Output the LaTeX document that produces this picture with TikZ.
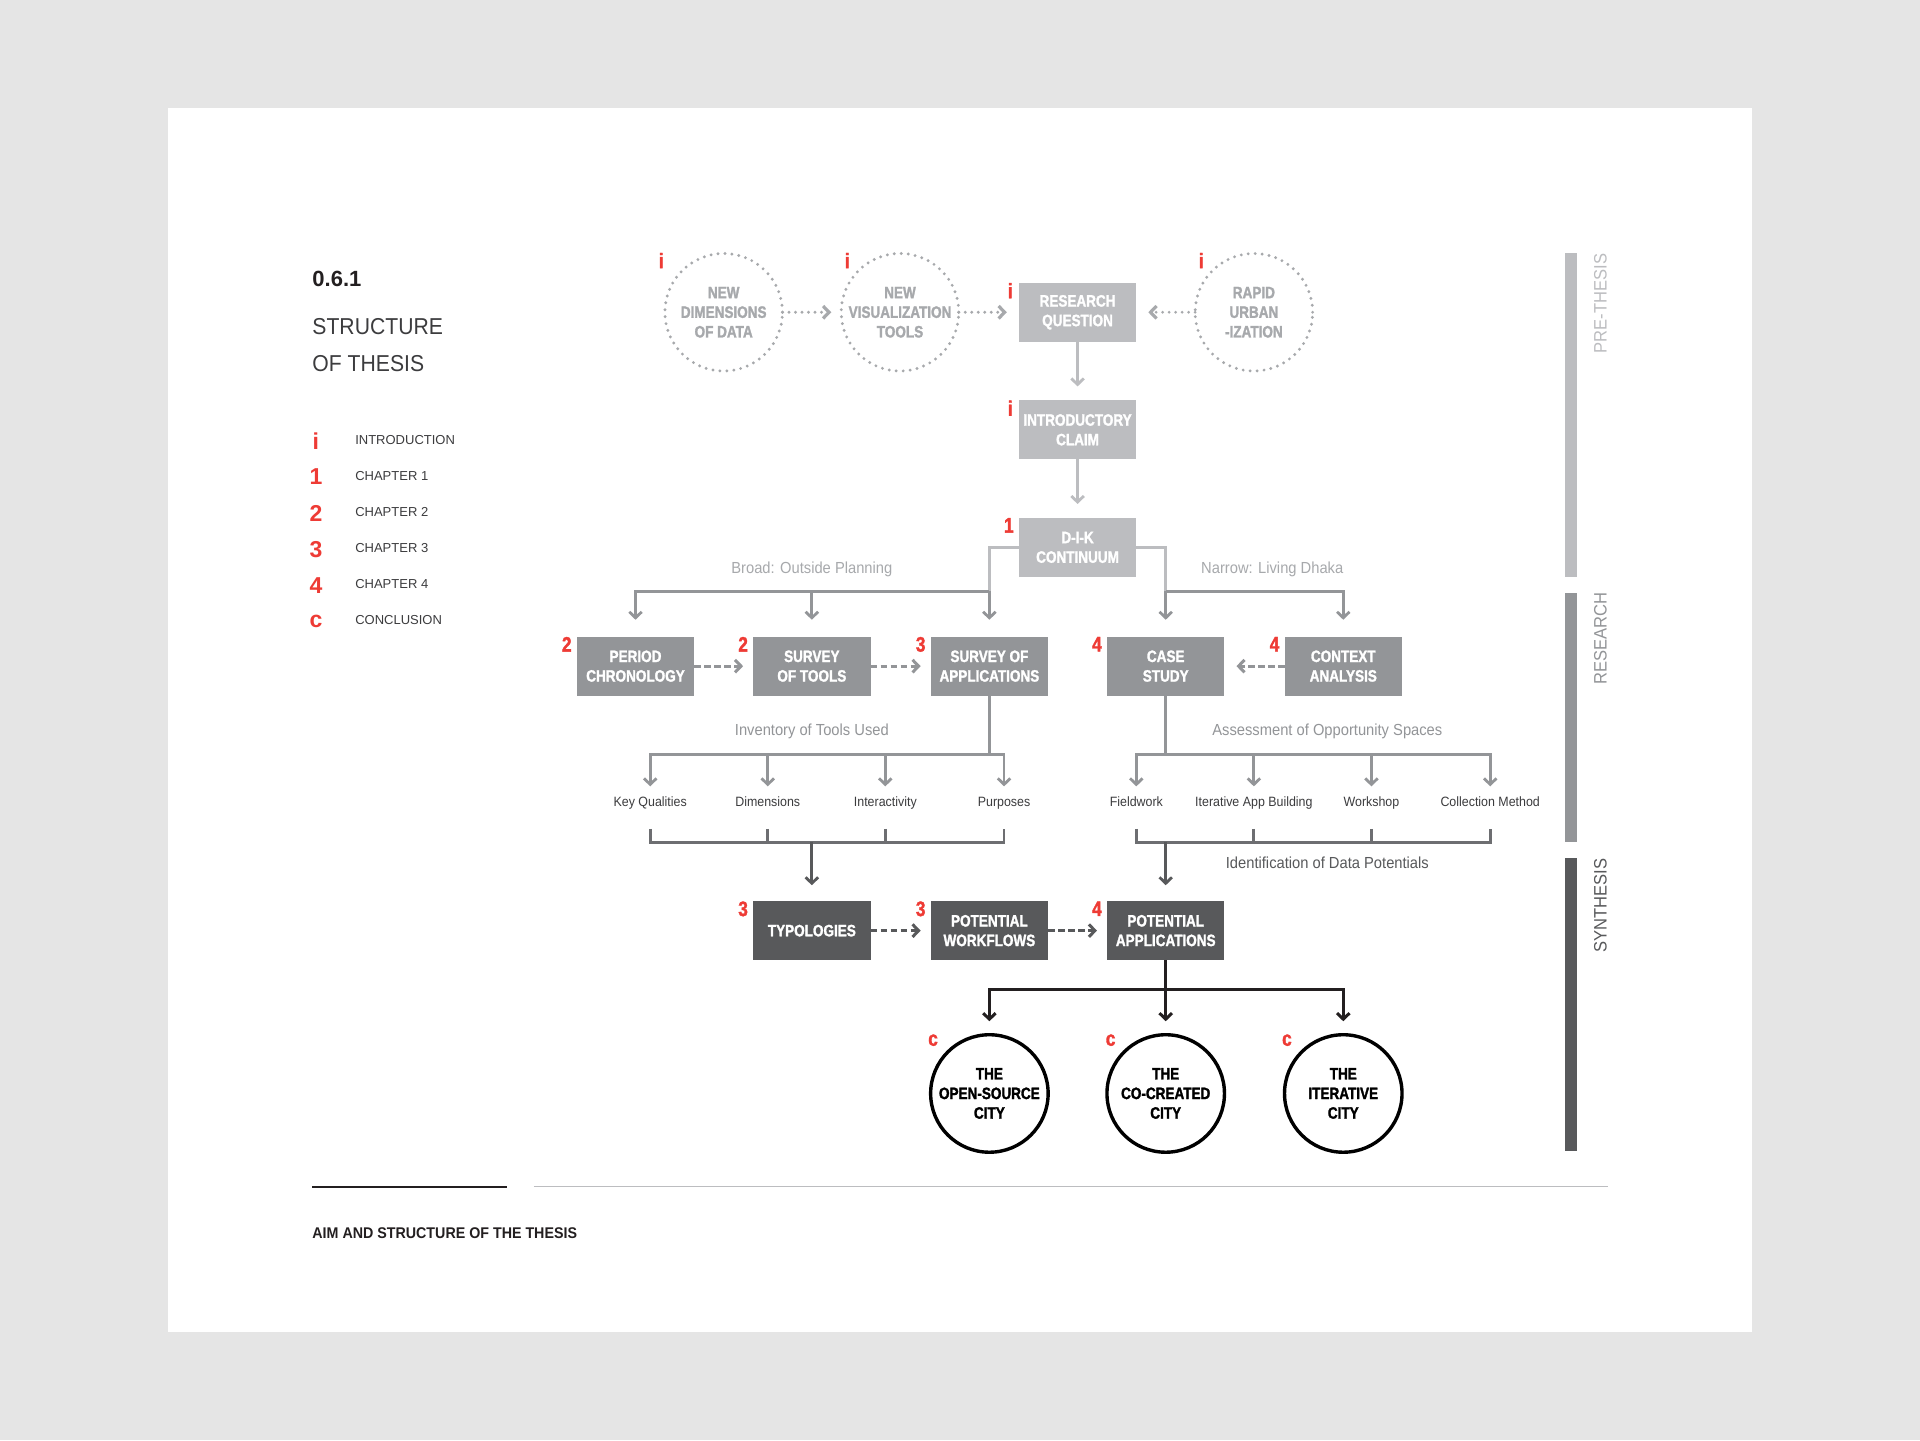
\documentclass[tikz,border=0pt]{standalone}
\usepackage{fontspec}
\setmainfont{Liberation Sans}
\newfontfamily\cond{Liberation Sans}[FakeStretch=0.82, BoldFeatures={FakeBold=1.6}]
\newfontfamily\condR{Liberation Sans}[FakeStretch=0.92]
\usetikzlibrary{arrows.meta,calc}
\definecolor{bgG}{HTML}{E5E5E5}
\definecolor{cL}{HTML}{BCBDC0}
\definecolor{cM}{HTML}{939598}
\definecolor{cD}{HTML}{58595B}
\definecolor{cB}{HTML}{6D6E71}
\definecolor{cK}{HTML}{231F20}
\definecolor{cR}{HTML}{EE3B35}
\definecolor{cT}{HTML}{A7A9AC}
\definecolor{cTx}{HTML}{3C3C3E}
\newcommand\fBox{\cond\bfseries\fontsize{16.5}{19.6}\selectfont}
\tikzset{
  box/.style={minimum width=117.5pt, minimum height=58.8pt, inner sep=0pt, outer sep=0pt, text=white, align=center, font=\fBox},
  boxL/.style={box, fill=cL},
  boxM/.style={box, fill=cM},
  boxD/.style={box, fill=cD},
  dcirc/.style={circle, minimum size=117.5pt, inner sep=0pt, outer sep=0pt, draw=cT, line width=3.2pt, dash pattern=on 0pt off 7pt, line cap=round, text=cT, align=center, font=\fBox},
  kcirc/.style={circle, minimum size=117.5pt, inner sep=0pt, outer sep=1.5pt, draw=black, line width=3.4pt, text=black, align=center, font=\fBox},
  tip/.style={-{Straight Barb[length=6pt,width=12.5pt]}},
  lnL/.style={draw=cL, line width=2.8pt},
  lnM/.style={draw=cM, line width=2.8pt},
  lnB/.style={draw=cB, line width=2.8pt},
  lnD/.style={draw=cD, line width=2.8pt},
  lnK/.style={draw=cK, line width=3pt},
  dotarr/.style={draw=cT, line width=3.2pt, dash pattern=on 0pt off 6.5pt, line cap=round, tip},
  dashM/.style={draw=cM, line width=3pt, dash pattern=on 6.5pt off 3.5pt, tip},
  dashD/.style={draw=cD, line width=3pt, dash pattern=on 6.5pt off 3.5pt, tip},
  rlab/.style={text=cR, inner sep=0pt, font=\cond\bfseries\fontsize{21}{21}\selectfont},
  leg/.style={text=cR, inner sep=0pt, font=\bfseries\fontsize{23}{23}\selectfont, anchor=base},
  legt/.style={text=cTx, inner sep=0pt, font=\fontsize{13}{13}\selectfont, anchor=base west},
  item/.style={text=cTx, inner sep=0pt, text height=9pt, text depth=2.5pt, font=\condR\fontsize{13.5}{13.5}\selectfont},
  mid/.style={inner sep=0pt, font=\condR\fontsize{16}{16}\selectfont},
  side/.style={inner sep=0pt, rotate=90, anchor=east, font=\condR\fontsize{18}{18}\selectfont},
}
\begin{document}
\begin{tikzpicture}[x=1.2245pt,y=-1.2245pt]
\useasboundingbox (0,0) rectangle (1568,1176);
\fill[bgG] (0,0) rectangle (1568,1176);
\fill[white] (137,88) rectangle (1431,1088);

% ---- left panel
\node[anchor=west, inner sep=0pt, text=cK, font=\bfseries\fontsize{22}{22}\selectfont] (num) at (255,228) {0.6.1};
\node[anchor=west, inner sep=0pt, text=cTx, font=\condR\fontsize{23}{23}\selectfont] (tt1) at (255,267) {STRUCTURE};
\node[anchor=west, inner sep=0pt, text=cTx, font=\condR\fontsize{23}{23}\selectfont] (tt2) at (255,297) {OF THESIS};

\node[leg] (gi) at (258,367) {i};
\node[legt] (li) at (290,363) {INTRODUCTION};
\node[leg] (g1) at (258,396) {1};
\node[legt] (l1) at (290,392) {CHAPTER 1};
\node[leg] (g2) at (258,426) {2};
\node[legt] (l2) at (290,422) {CHAPTER 2};
\node[leg] (g3) at (258,455) {3};
\node[legt] (l3) at (290,451) {CHAPTER 3};
\node[leg] (g4) at (258,485) {4};
\node[legt] (l4) at (290,481) {CHAPTER 4};
\node[leg] (gc) at (258,512.5) {c};
\node[legt] (lc) at (290,510) {CONCLUSION};

% ---- top row
\node[dcirc] (nd) at (591,255) {NEW\\DIMENSIONS\\OF DATA};
\node[dcirc] (nv) at (735,255) {NEW\\VISUALIZATION\\TOOLS};
\node[boxL] (rq) at (880,255) {RESEARCH\\QUESTION};
\node[dcirc] (ru) at (1024,255) {RAPID\\URBAN\\-IZATION};
\node[boxL] (ic) at (880,351) {INTRODUCTORY\\CLAIM};
\node[boxL] (dik) at (880,447) {D-I-K\\CONTINUUM};

\node[rlab, anchor=base] (rnd) at ($(nd)+(-51,-36)$) {i};
\node[rlab, anchor=base] (rnv) at ($(nv)+(-43,-36)$) {i};
\node[rlab, anchor=base] (rru) at ($(ru)+(-43,-36)$) {i};
\node[rlab, anchor=north east] (rrq) at ([xshift=-6pt]rq.north west) {i};
\node[rlab, anchor=north east] (ric) at ([xshift=-6pt]ic.north west) {i};
\node[rlab, anchor=north east] (rdik) at ([xshift=-5pt]dik.north west) {1};

\draw[dotarr, shorten >=10pt] (nd) -- (nv);
\draw[dotarr, shorten >=12pt] (nv) -- (rq);
\draw[dotarr, shorten >=12pt] (ru) -- (rq);
\draw[lnL, tip, shorten >=14pt] (rq) -- (ic);
\draw[lnL, tip, shorten >=14pt] (ic) -- (dik);

% ---- row 2
\node[boxM] (pc) at (519,544) {PERIOD\\CHRONOLOGY};
\node[boxM] (st) at (663,544) {SURVEY\\OF TOOLS};
\node[boxM] (sa) at (808,544) {SURVEY OF\\APPLICATIONS};
\node[boxM] (cs) at (952,544) {CASE\\STUDY};
\node[boxM] (ca) at (1097,544) {CONTEXT\\ANALYSIS};
\node[rlab, anchor=north east] (rpc) at ([xshift=-5pt]pc.north west) {2};
\node[rlab, anchor=north east] (rst) at ([xshift=-5pt]st.north west) {2};
\node[rlab, anchor=north east] (rsa) at ([xshift=-5pt]sa.north west) {3};
\node[rlab, anchor=north east] (rcs) at ([xshift=-5pt]cs.north west) {4};
\node[rlab, anchor=north east] (rca) at ([xshift=-5pt]ca.north west) {4};

\coordinate (jL) at (808,483);
\coordinate (jR) at (952,483);
\draw[lnL] (dik.west) -| (jL);
\draw[lnL] (dik.east) -| (jR);
\draw[lnM, tip, shorten >=17pt] (jL) -| (pc.north);
\draw[lnM, tip, shorten >=17pt] (jL) -| (st.north);
\draw[lnM, tip, shorten >=17pt] (jL) -- (sa.north);
\draw[lnM, tip, shorten >=17pt] (jR) -- (cs.north);
\draw[lnM, tip, shorten >=17pt] (jR) -| (ca.north);
\node[mid, text=cT] (broad) at (663,465) {Broad: Outside Planning};
\node[mid, text=cT] (narrow) at (1039,465) {Narrow: Living Dhaka};

\draw[dashM, shorten >=10pt] (pc) -- (st);
\draw[dashM, shorten >=10pt] (st) -- (sa);
\draw[dashM, shorten >=12pt] (ca) -- (cs);

% ---- items
\node[item] (kq) at (531,656) {Key Qualities};
\node[item] (dm) at (627,656) {Dimensions};
\node[item] (ia) at (723,656) {Interactivity};
\node[item] (pu) at (820,656) {Purposes};
\node[item] (fw) at (928,656) {Fieldwork};
\node[item] (iab) at (1024,656) {Iterative App Building};
\node[item] (ws) at (1120,656) {Workshop};
\node[item] (cm) at (1217,656) {Collection Method};

\coordinate (jI) at (808,616);
\coordinate (jA) at (952,616);
\draw[lnM] (sa.south) -- (jI);
\draw[lnM] (cs.south) -- (jA);
\draw[lnM, tip, shorten >=11pt] (jI) -| (kq.north);
\draw[lnM, tip, shorten >=11pt] (jI) -| (dm.north);
\draw[lnM, tip, shorten >=11pt] (jI) -| (ia.north);
\draw[lnM, tip, shorten >=11pt] (jI) -| (pu.north);
\draw[lnM, tip, shorten >=11pt] (jA) -| (fw.north);
\draw[lnM, tip, shorten >=11pt] (jA) -| (iab.north);
\draw[lnM, tip, shorten >=11pt] (jA) -| (ws.north);
\draw[lnM, tip, shorten >=11pt] (jA) -| (cm.north);
\node[mid, text=cM] (inv) at (663,597) {Inventory of Tools Used};
\node[mid, text=cM] (ass) at (1084,597) {Assessment of Opportunity Spaces};

% ---- brackets
\coordinate (bI) at (663,688);
\coordinate (bA) at (952,688);
\draw[lnB] ($(kq.south)+(0,16)$) |- (bI) -| ($(pu.south)+(0,16)$);
\draw[lnB] ($(dm.south)+(0,16)$) -- (dm.south |- bI);
\draw[lnB] ($(ia.south)+(0,16)$) -- (ia.south |- bI);
\draw[lnB] ($(fw.south)+(0,16)$) |- (bA) -| ($(cm.south)+(0,16)$);
\draw[lnB] ($(iab.south)+(0,16)$) -- (iab.south |- bA);
\draw[lnB] ($(ws.south)+(0,16)$) -- (ws.south |- bA);
\node[mid, text=cD] (idp) at (1084,705) {Identification of Data Potentials};

% ---- row 3
\node[boxD] (ty) at (663,760) {TYPOLOGIES};
\node[boxD] (pw) at (808,760) {POTENTIAL\\WORKFLOWS};
\node[boxD] (pa) at (952,760) {POTENTIAL\\APPLICATIONS};
\node[rlab, anchor=north east] (rty) at ([xshift=-5pt]ty.north west) {3};
\node[rlab, anchor=north east] (rpw) at ([xshift=-5pt]pw.north west) {3};
\node[rlab, anchor=north east] (rpa) at ([xshift=-5pt]pa.north west) {4};
\draw[lnD, tip, shorten >=16pt] (bI) -- (ty.north);
\draw[lnD, tip, shorten >=16pt] (bA) -- (pa.north);
\draw[dashD, shorten >=10pt] (ty) -- (pw);
\draw[dashD, shorten >=10pt] (pw) -- (pa);

% ---- conclusions
\node[kcirc] (osc) at (808,893) {THE\\OPEN-SOURCE\\CITY};
\node[kcirc] (ccc) at (952,893) {THE\\CO-CREATED\\CITY};
\node[kcirc] (itc) at (1097,893) {THE\\ITERATIVE\\CITY};
\node[rlab, anchor=base] (rosc) at ($(osc)+(-46,-39)$) {c};
\node[rlab, anchor=base] (rccc) at ($(ccc)+(-45,-39)$) {c};
\node[rlab, anchor=base] (ritc) at ($(itc)+(-46,-39)$) {c};
\coordinate (jC) at (952,808);
\draw[lnK] (pa.south) -- (jC);
\draw[lnK, tip, shorten >=12pt] (jC) -| (osc.north);
\draw[lnK, tip, shorten >=12pt] (jC) -- (ccc.north);
\draw[lnK, tip, shorten >=12pt] (jC) -| (itc.north);

% ---- side bars
\fill[cL] (1278,207) rectangle (1288,471);
\fill[cM] (1278,484) rectangle (1288,688);
\fill[cD] (1278,701) rectangle (1288,940);
\node[side, text=cL] (spre) at (1307,207) {PRE-THESIS};
\node[side, text=cM] (sres) at (1307,484) {RESEARCH};
\node[side, text=cD] (ssyn) at (1307,701) {SYNTHESIS};

% ---- footer
\draw[cK, line width=2pt] (255,969) -- (414,969);
\draw[cL, line width=1.5pt] (436,969) -- (1313,969);
\node[anchor=west, inner sep=0pt, text=cK, font=\condR\bfseries\fontsize{15.5}{15.5}\selectfont] (foot) at (255,1007) {AIM AND STRUCTURE OF THE THESIS};
\end{tikzpicture}
\end{document}
